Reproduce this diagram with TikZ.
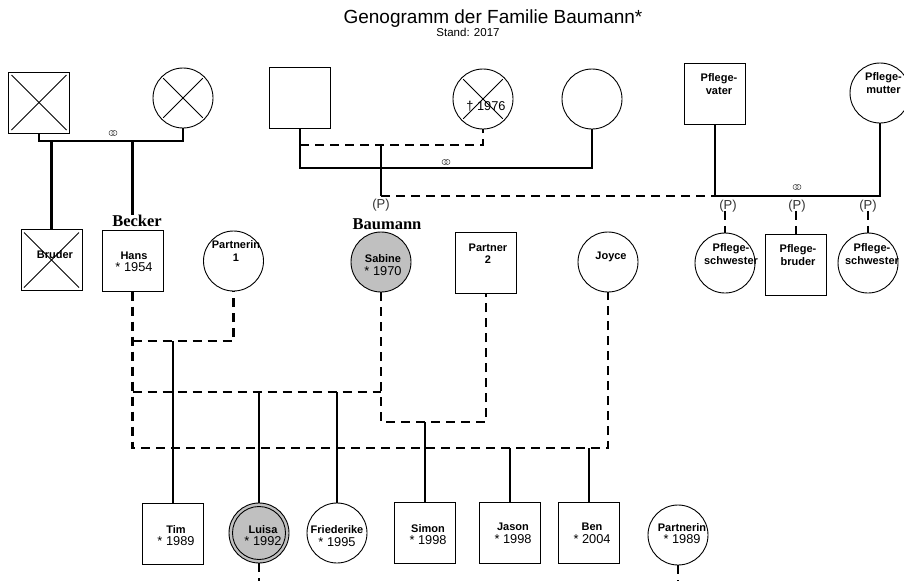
\documentclass[tikz,border=0pt]{standalone}
\usepackage{fontspec}
\setmainfont{Liberation Sans}
\newfontfamily\timesfont{Liberation Serif}
\definecolor{sabgray}{HTML}{C0C0C0}
\definecolor{symgray}{HTML}{404040}
\newcommand\pname[1]{{\bfseries\fontsize{11}{12.5}\selectfont #1}}
\newcommand\pyear[1]{{\fontsize{12.8}{12.5}\selectfont #1}}
\tikzset{
  male/.style={draw, line width=0.9pt, minimum size=61pt, inner sep=0pt, outer sep=0pt},
  female/.style={draw, circle, line width=0.9pt, minimum size=60pt, inner sep=0pt, outer sep=0pt},
  famline/.style={line width=2.1pt},
  childline/.style={line width=1.8pt},
  relline/.style={line width=2.1pt, dash pattern=on 9pt off 6pt},
  crossline/.style={line width=0.8pt},
  txt/.style={align=center, inner sep=0pt, font=\fontsize{12.8}{12.5}\selectfont},
  plabel/.style={inner sep=0pt, font=\fontsize{13}{13}\selectfont, text=black!80},
  surname/.style={inner sep=0pt, font=\timesfont\bfseries\fontsize{16.5}{17}\selectfont},
  marr/.pic={\draw[line width=0.5pt, symgray] (-1.4,0) circle[radius=2.6pt] (1.4,0) circle[radius=2.6pt];}
}
\begin{document}
\begin{tikzpicture}[x=1pt,y=-1pt]
\useasboundingbox (0,0) rectangle (904,581);
\fill[white] (0,0) rectangle (904,581);

% title
\node[inner sep=0pt, font=\fontsize{19}{19}\selectfont] (title) at (493,19) {Genogramm der Familie Baumann*};
\node[inner sep=0pt, font=\fontsize{11.5}{12}\selectfont] (stand) at (468,32) {Stand: 2017};

% top generation
\node[male] (gf1) at (39,102.5) {};
\node[female] (gm1) at (183,98) {};
\node[male] (gf2) at (300,97.5) {};
\node[female] (gm2) at (483,99) {};
\node[female] (gm3) at (592,99) {};
\node[male] (pv) at (715,93.5) {};
\node[female] (pm) at (880,93) {};

\draw[crossline] ([shift={(3pt,-3pt)}]gf1.north west) -- ([shift={(-3pt,3pt)}]gf1.south east);
\draw[crossline] ([shift={(-3pt,-3pt)}]gf1.north east) -- ([shift={(3pt,3pt)}]gf1.south west);
\draw[crossline, shorten <=2pt, shorten >=2pt] (gm1.north west) -- (gm1.south east);
\draw[crossline, shorten <=2pt, shorten >=2pt] (gm1.north east) -- (gm1.south west);
\draw[crossline, shorten <=2pt, shorten >=2pt] (gm2.north west) -- (gm2.south east);
\draw[crossline, shorten <=2pt, shorten >=2pt] (gm2.north east) -- (gm2.south west);

\node[inner sep=0pt, font=\fontsize{12.8}{13}\selectfont] (tdead) at (486,106) {† 1976};
\node[txt] (tpv) at (719,84) {\pname{Pflege-}\\\pname{vater}};
\node[txt] (tpm) at (883.5,83) {\pname{Pflege-}\\\pname{mutter}};

% middle generation
\node[male] (bruder) at (51.5,260) {};
\node[male] (hans) at (132.5,261) {};
\node[female] (pin1) at (233.5,261) {};
\node[female, fill=sabgray] (sabine) at (381,262) {};
\node[male] (p2) at (486,262.5) {};
\node[female] (joyce) at (608,262) {};
\node[female] (ps1) at (725,263) {};
\node[male] (pb) at (796,264.5) {};
\node[female] (ps2) at (868,263) {};

\draw[crossline] ([shift={(3pt,-3pt)}]bruder.north west) -- ([shift={(-3pt,3pt)}]bruder.south east);
\draw[crossline] ([shift={(-3pt,-3pt)}]bruder.north east) -- ([shift={(3pt,3pt)}]bruder.south west);

\node[txt] (tbruder) at (55,255) {\pname{Bruder}};
\node[txt] (thans) at (134,262) {\pname{Hans}\\\pyear{* 1954}};
\node[txt] (tpin1) at (236,251) {\pname{Partnerin}\\\pname{1}};
\node[txt] (tsab) at (383,265) {\pname{Sabine}\\\pyear{* 1970}};
\node[txt] (tp2) at (488,253.5) {\pname{Partner}\\\pname{2}};
\node[txt] (tjoyce) at (611,257) {\pname{Joyce}};
\node[txt] (tps1) at (731,254) {\pname{Pflege-}\\\pname{schwester}};
\node[txt] (tpb) at (798,255) {\pname{Pflege-}\\\pname{bruder}};
\node[txt] (tps2) at (872,254) {\pname{Pflege-}\\\pname{schwester}};

\node[surname] (becker) at (137,221) {Becker};
\node[surname] (baumann) at (387,224) {Baumann};

% bottom generation
\node[male] (tim) at (172.5,533.5) {};
\node[female, fill=sabgray] (luisa) at (259,533) {};
\draw[line width=0.9pt] (luisa.center) circle[radius=26.5pt];
\node[female] (fried) at (337,533) {};
\node[male] (simon) at (425,533) {};
\node[male] (jason) at (510,533) {};
\node[male] (ben) at (588.5,533) {};
\node[female] (pin) at (678,535) {};

\node[txt] (ttim) at (176,535.5) {\pname{Tim}\\\pyear{* 1989}};
\node[txt] (tluisa) at (263,535.5) {\pname{Luisa}\\\pyear{* 1992}};
\node[txt] (tfried) at (337,536) {\pname{Friederike}\\\pyear{* 1995}};
\node[txt] (tsimon) at (428,534.5) {\pname{Simon}\\\pyear{* 1998}};
\node[txt] (tjason) at (513,533.5) {\pname{Jason}\\\pyear{* 1998}};
\node[txt] (tben) at (592,533.5) {\pname{Ben}\\\pyear{* 2004}};
\node[txt] (tpin) at (682,533.5) {\pname{Partnerin}\\\pyear{* 1989}};

% --- connectors: top left family
\draw[famline] (gf1.south) -- (gf1.south |- 0,141) -- (gm1.south |- 0,141) -- (gm1.south);
\pic at (113,133) {marr};
\draw[famline] (bruder.north |- 0,141) -- (bruder.north);
\draw[famline] (hans.north |- 0,141) -- (hans.north |- becker.north);

% --- top middle family
\draw[famline] (gf2.south) -- (gf2.south |- 0,168) -- (gm3.south |- 0,168) -- (gm3.south);
\pic at (446,162) {marr};
\draw[relline] (gf2.south |- 0,145) -- (gm2.south |- 0,145) -- (gm2.south);
\coordinate (sabtop) at (381,145);
\coordinate (sabfost) at (381,196);
\draw[famline] (sabtop) -- (sabfost);
\node[plabel] (psab) at (381,205) {(P)};
\draw[relline] (sabfost) -- (pv.south |- sabfost);

% --- foster family
\draw[famline] (pv.south) -- (pv.south |- 0,196) -- (pm.south |- 0,196) -- (pm.south);
\pic at (797,187) {marr};
\node[plabel] (pl1) at (728,206) {(P)};
\node[plabel] (pl2) at (797,206) {(P)};
\node[plabel] (pl3) at (868,206) {(P)};
\draw[relline] (ps1.north |- pl1.south) ++(0,-1.5) -- (ps1.north);
\draw[relline] (pb.north |- pl2.south) ++(0,-1.5) -- (pb.north);
\draw[relline] (ps2.north |- pl3.south) ++(0,-1.5) -- (ps2.north);

% --- relationships middle generation
\draw[relline] (hans.south) -- (hans.south |- 0,448) -- (joyce.south |- 0,448) -- (joyce.south);
\draw[relline] (hans.south |- 0,341) -- (pin1.south |- 0,341) -- (pin1.south);
\draw[relline] (hans.south |- 0,392) -- (sabine.south |- 0,392);
\draw[relline] (sabine.south) -- (sabine.south |- 0,422) -- (p2.south |- 0,422) -- (p2.south);

% --- children
\draw[childline] (173,341) -- (tim.north -| 173,0);
\draw[childline] (luisa.north |- 0,392) -- (luisa.north);
\draw[childline] (fried.north |- 0,392) -- (fried.north);
\draw[childline] (simon.north |- 0,422) -- (simon.north);
\draw[childline] (jason.north |- 0,448) -- (jason.north);
\draw[childline] (589,448) -- (ben.north -| 589,0);

% --- partner lines leaving the page
\coordinate (lbot) at (259,581);
\coordinate (pbot) at (678,581);
\draw[relline] (luisa.south) -- (lbot);
\draw[relline] (pin.south) -- (pbot);
\end{tikzpicture}
\end{document}
